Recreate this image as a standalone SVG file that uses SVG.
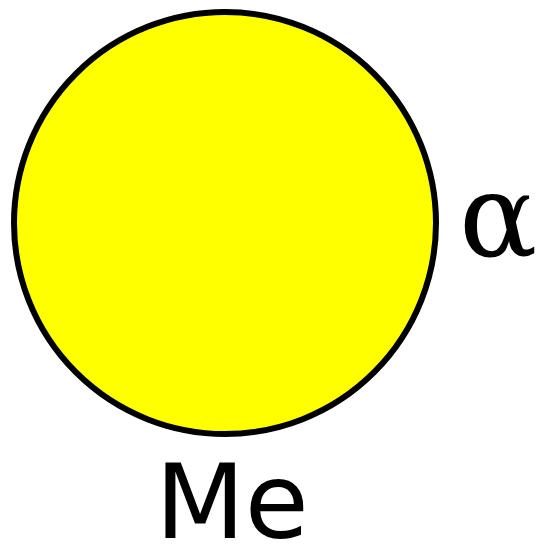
<svg xmlns="http://www.w3.org/2000/svg" width="543" height="549" viewBox="0 0 543 549">
<style>
.node{fill:#FFFF00;stroke:#000;stroke-width:6}
.lbl{font-family:"DejaVu Sans",Verdana,sans-serif;fill:#000}
.greek{font-family:"DejaVu Serif","Times New Roman",serif;fill:#000}
</style>
<rect width="543" height="549" fill="#fff"/>
<g id="connectors"></g>
<g id="me">
<circle class="node" cx="225" cy="223" r="211"/>
<text class="lbl" x="232" y="538" font-size="104" text-anchor="middle">Me</text>
</g>
<g id="alpha">
<text class="greek" x="459" y="256" font-size="116">α</text>
</g>
</svg>
